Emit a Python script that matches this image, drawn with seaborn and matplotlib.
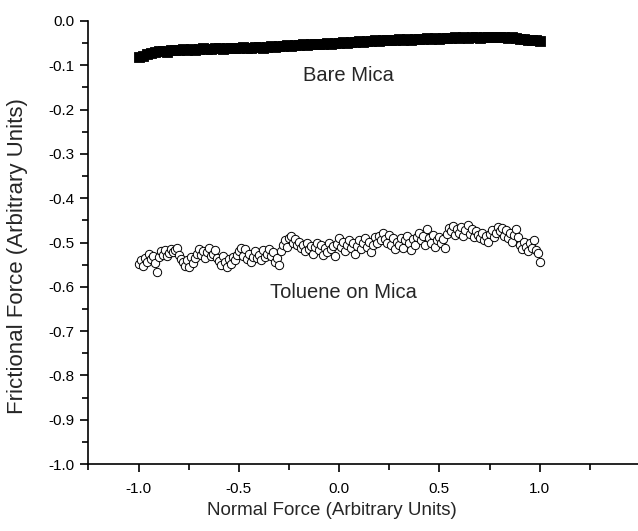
import numpy as np
import pandas as pd
import matplotlib
matplotlib.use("Agg")
import matplotlib.pyplot as plt
from matplotlib.ticker import MultipleLocator, FormatStrFormatter
import seaborn as sns

# Normal force sweep (arbitrary units)
bare_x = np.linspace(-1.0, 1.0, 101)
toluene_x = np.linspace(-1.0, 1.0, 201)

# Frictional force on bare mica
bare_y = [
    -0.082, -0.079, -0.075, -0.072, -0.070, -0.068, -0.067, -0.069, -0.066, -0.065,
    -0.066, -0.064, -0.065, -0.063, -0.065, -0.064, -0.062, -0.063, -0.064, -0.062,
    -0.061, -0.063, -0.062, -0.060, -0.061, -0.062, -0.059, -0.060, -0.061, -0.059,
    -0.058, -0.060, -0.058, -0.057, -0.059, -0.056, -0.057, -0.055, -0.056, -0.054,
    -0.055, -0.053, -0.054, -0.052, -0.053, -0.051, -0.052, -0.050, -0.051, -0.049,
    -0.050, -0.048, -0.049, -0.047, -0.048, -0.046, -0.047, -0.045, -0.046, -0.044,
    -0.045, -0.043, -0.044, -0.042, -0.043, -0.041, -0.042, -0.040, -0.042, -0.041,
    -0.040, -0.041, -0.039, -0.040, -0.038, -0.040, -0.039, -0.038, -0.039, -0.037,
    -0.038, -0.037, -0.038, -0.036, -0.037, -0.038, -0.036, -0.037, -0.036, -0.037,
    -0.036, -0.037, -0.038, -0.037, -0.039, -0.040, -0.041, -0.042, -0.043, -0.044,
    -0.046,
]

# Frictional force with toluene on mica
toluene_y = [
    -0.548, -0.540, -0.552, -0.535, -0.545, -0.525, -0.538, -0.530, -0.546, -0.566,
    -0.532, -0.520, -0.528, -0.518, -0.530, -0.524, -0.515, -0.522, -0.517, -0.513,
    -0.528, -0.538, -0.545, -0.552, -0.540, -0.555, -0.533, -0.547, -0.536, -0.525,
    -0.515, -0.528, -0.520, -0.534, -0.522, -0.512, -0.530, -0.525, -0.518, -0.535,
    -0.542, -0.550, -0.530, -0.545, -0.555, -0.538, -0.548, -0.532, -0.540, -0.528,
    -0.520, -0.512, -0.530, -0.515, -0.538, -0.525, -0.545, -0.532, -0.520, -0.535,
    -0.528, -0.540, -0.518, -0.532, -0.525, -0.515, -0.530, -0.522, -0.545, -0.535,
    -0.550, -0.520, -0.505, -0.495, -0.510, -0.490, -0.485, -0.500, -0.492, -0.505,
    -0.498, -0.512, -0.505, -0.520, -0.500, -0.515, -0.508, -0.525, -0.510, -0.502,
    -0.518, -0.505, -0.528, -0.512, -0.522, -0.500, -0.515, -0.508, -0.530, -0.503,
    -0.490, -0.510, -0.498, -0.520, -0.505, -0.495, -0.512, -0.500, -0.525, -0.508,
    -0.495, -0.515, -0.502, -0.490, -0.510, -0.498, -0.522, -0.505, -0.488, -0.500,
    -0.485, -0.495, -0.478, -0.492, -0.500, -0.482, -0.505, -0.490, -0.515, -0.498,
    -0.505, -0.490, -0.512, -0.495, -0.485, -0.500, -0.518, -0.492, -0.505, -0.488,
    -0.478, -0.495, -0.485, -0.505, -0.470, -0.490, -0.500, -0.482, -0.510, -0.495,
    -0.488, -0.502, -0.492, -0.512, -0.480, -0.468, -0.475, -0.462, -0.482, -0.470,
    -0.478, -0.465, -0.485, -0.472, -0.460, -0.480, -0.470, -0.488, -0.475, -0.482,
    -0.490, -0.478, -0.495, -0.485, -0.498, -0.480, -0.472, -0.488, -0.478, -0.465,
    -0.475, -0.468, -0.485, -0.472, -0.490, -0.478, -0.498, -0.482, -0.470, -0.488,
    -0.505, -0.515, -0.498, -0.510, -0.520, -0.502, -0.512, -0.495, -0.518, -0.524,
    -0.545,
]

x_ticks = [-1.0, -0.5, 0.0, 0.5, 1.0]
y_ticks = [-1.0, -0.9, -0.8, -0.7, -0.6, -0.5, -0.4, -0.3, -0.2, -0.1, 0.0]

bare = pd.DataFrame({"normal": bare_x, "friction": bare_y})
toluene = pd.DataFrame({"normal": toluene_x, "friction": toluene_y})

sns.set_style("ticks")
plt.rcParams["font.family"] = ["Liberation Sans", "DejaVu Sans"]

fig = plt.figure(figsize=(6.38, 5.31), dpi=100)
ax = fig.add_axes([88 / 638, 67 / 531, 550 / 638, 443 / 531])

sns.scatterplot(data=bare, x="normal", y="friction", ax=ax, marker="s",
                s=45, color="black", edgecolor="black", linewidth=0.6,
                clip_on=False, zorder=3)
sns.scatterplot(data=toluene, x="normal", y="friction", ax=ax, marker="o",
                s=36, facecolor="white", edgecolor="black", linewidth=0.7,
                clip_on=False, zorder=3)

ax.set_xlim(-1.252, 1.49)
ax.set_ylim(-1.0, 0.0)
ax.set_xticks(x_ticks)
ax.set_yticks(y_ticks)
ax.xaxis.set_minor_locator(MultipleLocator(0.25))
ax.yaxis.set_minor_locator(MultipleLocator(0.05))
ax.xaxis.set_major_formatter(FormatStrFormatter("%.1f"))
ax.yaxis.set_major_formatter(FormatStrFormatter("%.1f"))

for side in ("top", "right"):
    ax.spines[side].set_visible(False)
for side in ("left", "bottom"):
    ax.spines[side].set_linewidth(1.2)
    ax.spines[side].set_color("black")

ax.tick_params(which="major", direction="out", length=6, width=1.2,
               labelsize=11, colors="black", pad=4)
ax.tick_params(which="minor", direction="out", length=4, width=1.2,
               colors="black")
ax.tick_params(axis="x", pad=7)

ax.set_xlabel("Normal Force (Arbitrary Units)", fontsize=13.5, va="center")
ax.set_ylabel("Frictional Force (Arbitrary Units)", fontsize=16, va="center")
ax.xaxis.set_label_coords(0.444, -0.104)
ax.yaxis.set_label_coords(-0.128, 0.47)

ax.text(0.047, -0.123, "Bare Mica", fontsize=14.5, ha="center", va="center")
ax.text(0.022, -0.612, "Toluene on Mica", fontsize=14.5, ha="center", va="center")

fig.savefig("out.png", dpi=100)
